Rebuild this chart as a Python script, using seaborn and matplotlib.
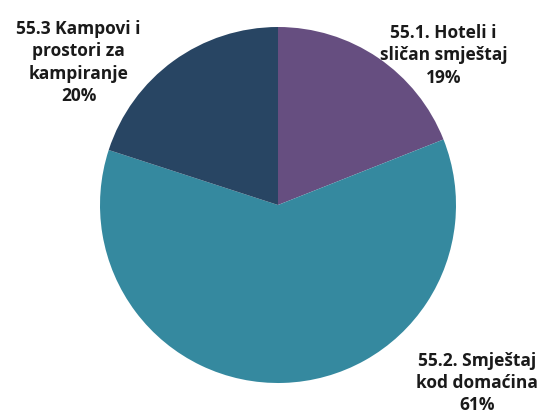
import matplotlib
matplotlib.use("Agg")
import matplotlib.pyplot as plt
import seaborn as sns

# Data
categories = ["55.1. Hoteli i\nsličan smještaj", "55.2. Smještaj\nkod domaćina", "55.3 Kampovi i\nprostori za\nkampiranje"]
shares = [19, 61, 20]
colors = ["#664e80", "#35899f", "#284563"]

sns.set_style("white")
plt.rcParams["font.family"] = ["Open Sans", "DejaVu Sans"]

fig = plt.figure(figsize=(5.45, 4.17), dpi=100)
# axes sized so the pie (radius 1) spans the reference circle
ax = fig.add_axes([100 / 545, 34 / 417, 356 / 545, 356 / 417])
ax.pie(shares, colors=colors, startangle=90, counterclock=False, radius=1,
       wedgeprops={"linewidth": 0})
ax.set_xlim(-1, 1)
ax.set_ylim(-1, 1)
ax.set_aspect("auto")
ax.axis("off")

# label positions (data coords)
label_pos = [(0.93, 0.84), (1.12, -1.0), (-1.12, 0.80)]
for cat, val, (x, y) in zip(categories, shares, label_pos):
    ax.text(x, y, f"{cat}\n{val}%", ha="center", va="center", fontsize=12.5,
            fontweight="bold", color="#1a1a1a", linespacing=1.3, clip_on=False)

fig.savefig("out.png", dpi=100)
